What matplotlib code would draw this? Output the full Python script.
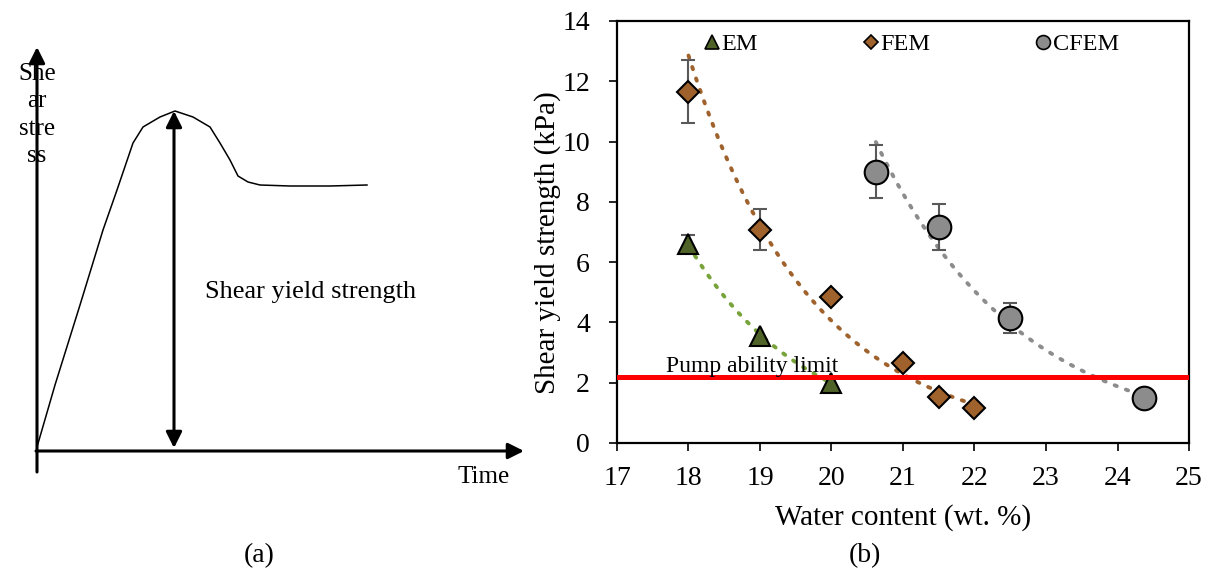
import numpy as np
import matplotlib
matplotlib.use("Agg")
import matplotlib.pyplot as plt
from matplotlib.lines import Line2D

plt.rcParams['font.family'] = ['Liberation Serif', 'DejaVu Serif']

# panel (b) data
em_x = [18, 19, 20]
em_y = [6.6, 3.56, 2.0]
em_err = [0.3, 0, 0]

fem_x = [18, 19, 20, 21, 21.5, 22]
fem_y = [11.65, 7.07, 4.86, 2.65, 1.52, 1.16]
fem_err = [1.04, 0.68, 0, 0, 0, 0]

cfem_x = [20.62, 21.5, 22.5, 24.37]
cfem_y = [9.0, 7.17, 4.14, 1.49]
cfem_err = [0.87, 0.77, 0.5, 0]

pump_limit = 2.19

# panel (a) schematic curve (drawing coords, y down)
curve_t = [37, 55, 80, 103, 117, 133, 143, 160, 175, 193, 210, 220, 230, 238, 248, 260, 290, 330, 367]
curve_s = [447, 385, 305, 230, 190, 143, 127, 117, 111, 117, 127, 143, 160, 176, 182, 185, 186, 186, 185]


def draw_schematic(ax):
    ax.set_xlim(0, 540)
    ax.set_ylim(569, 0)
    ax.axis('off')
    arrow = dict(color='black', lw=2.2, mutation_scale=24, shrinkA=0, shrinkB=0)
    ax.annotate('', xy=(37, 47), xytext=(37, 472), arrowprops=dict(arrowstyle='-|>', **arrow))
    ax.annotate('', xy=(524, 451), xytext=(36, 451), arrowprops=dict(arrowstyle='-|>', **arrow))
    ax.plot(curve_t, curve_s, color='black', lw=1.1)
    ax.annotate('', xy=(174, 111), xytext=(174, 448), arrowprops=dict(arrowstyle='<|-|>', **arrow))
    ax.text(37, 115, 'She\nar\nstre\nss', ha='center', va='center', fontsize=18, linespacing=1.3)
    ax.text(205, 292, 'Shear yield strength', ha='left', va='center', fontsize=19)
    ax.text(484, 477, 'Time', ha='center', va='center', fontsize=18)


fig = plt.figure(figsize=(12.07, 5.69), dpi=100)

ax_a = fig.add_axes([0, 0, 540 / 1207, 1])
draw_schematic(ax_a)

ax = fig.add_axes([617 / 1207, 1 - 443 / 569, 572 / 1207, 422 / 569])

series = [
    (em_x, em_y, em_err, '^', '#4f6228', '#77a33a', 15, 10, 'EM'),
    (fem_x, fem_y, fem_err, 'D', '#a0622d', '#a0622d', 11, 7.2, 'FEM'),
    (cfem_x, cfem_y, cfem_err, 'o', '#8c8c8c', '#8c8c8c', 17, 10, 'CFEM'),
]

handles = []
for x, y, err, mk, fc, lc, ms, lms, lab in series:
    x = np.array(x)
    y = np.array(y)
    # exponential trend line
    b, a = np.polyfit(x, np.log(y), 1)
    xf = np.linspace(x.min(), x.max(), 100)
    ax.plot(xf, np.exp(a + b * xf), ls=(0, (0.6, 2.5)), color=lc, lw=2.8,
            dash_capstyle='round', zorder=2)
    e = np.array(err)
    m = e > 0
    ax.errorbar(x[m], y[m], yerr=e[m], fmt='none', ecolor='#595959', elinewidth=1.5,
                capsize=5, capthick=1.5, zorder=3)
    ax.plot(x, y, ls='none', marker=mk, ms=ms, mfc=fc, mec='black', mew=1.5, zorder=4)
    handles.append(Line2D([], [], ls='none', marker=mk, ms=lms, mfc=fc,
                          mec='black', mew=1.2, label=lab))

ax.axhline(pump_limit, color='#ff0000', lw=3.6, zorder=5)
ax.text(17.68, 2.36, 'Pump ability limit', fontsize=17, ha='left', va='baseline', zorder=6)

ax.set_xlim(17, 25)
ax.set_ylim(0, 14)
ax.set_xticks(range(17, 26))
ax.set_yticks(range(0, 15, 2))
ax.tick_params(labelsize=20, direction='out', length=6, width=1.2)
ax.tick_params(axis='x', pad=10.5)
ax.tick_params(axis='y', pad=13.5)
for s in ax.spines.values():
    s.set_linewidth(1.6)
ax.set_xlabel('Water content (wt. %)', fontsize=21)
ax.set_ylabel('Shear yield strength (kPa)', fontsize=21)
ax.xaxis.set_label_coords(0.5, -0.1445)
ax.yaxis.set_label_coords(-0.098, 0.474)

ax.legend(handles=handles, loc='center left', ncol=3, frameon=False, fontsize=17.5,
          handlelength=0.7, handletextpad=0.05, columnspacing=4.28, borderpad=0,
          borderaxespad=0, bbox_to_anchor=(0.151, 0.945))

fig.text(259 / 1207, 1 - 556 / 569, '(a)', ha='center', va='center', fontsize=20)
fig.text(865 / 1207, 1 - 556 / 569, '(b)', ha='center', va='center', fontsize=20)

fig.savefig('out.png', dpi=100)
